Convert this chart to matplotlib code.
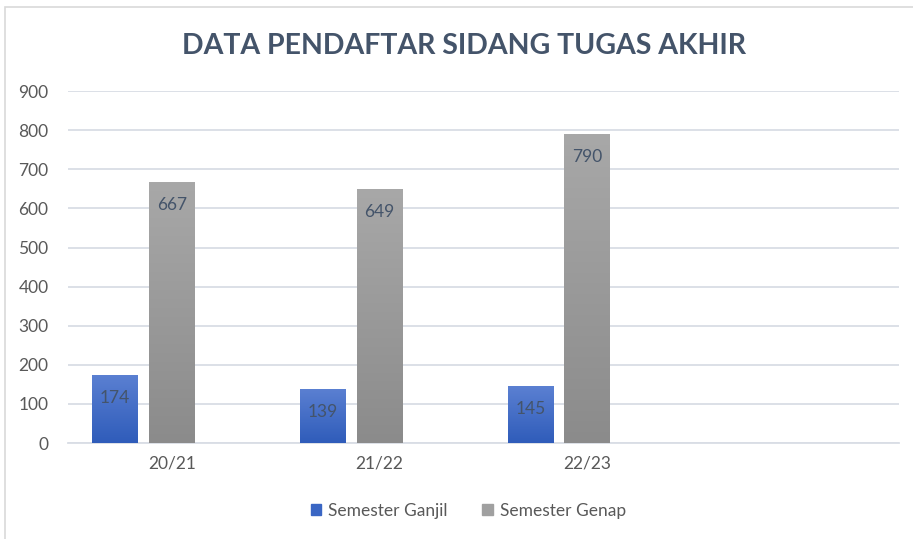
import numpy as np
import matplotlib.pyplot as plt
from matplotlib.patches import Rectangle
from matplotlib.colors import LinearSegmentedColormap

categories = ["20/21", "21/22", "22/23", ""]
ganjil = [174, 139, 145]
genap = [667, 649, 790]
series_names = ["Semester Ganjil", "Semester Genap"]

plt.rcParams['font.family'] = ['Lato', 'DejaVu Sans']

fig = plt.figure(figsize=(9.13, 5.39), dpi=100)
# chart area border (only left and top edges fall inside the picture)
fig.patches.append(Rectangle((0.006, -0.05), 1.1, 1.037, transform=fig.transFigure,
                             fill=False, edgecolor='#d9d9d9', lw=1.2))
ax = fig.add_axes([0.0745, 0.178, 0.9102, 0.653])

width = 0.221
offset = 0.274
x = np.arange(len(ganjil))

blue_cmap = LinearSegmentedColormap.from_list('b', ['#2f5cba', '#5b80d2'])
gray_cmap = LinearSegmentedColormap.from_list('g', ['#8b8b8b', '#a8a8a8'])
grad = np.linspace(0, 1, 256).reshape(-1, 1)


def gradient_bars(xpos, vals, color, cmap):
    bars = ax.bar(xpos, vals, width, color=color, zorder=3)
    for b in bars:
        im = ax.imshow(grad, cmap=cmap, origin='lower', aspect='auto',
                       extent=[b.get_x(), b.get_x() + b.get_width(), 0, b.get_height()],
                       zorder=3.5)
        im.set_clip_path(b)
    return bars


b1 = gradient_bars(x - offset, ganjil, '#4472c4', blue_cmap)
b2 = gradient_bars(x, genap, '#999999', gray_cmap)

for bars, vals in [(b1, ganjil), (b2, genap)]:
    for b, v in zip(bars, vals):
        ax.annotate(str(v), (b.get_x() + b.get_width() / 2, v), xytext=(0, -16.5),
                    textcoords='offset points', ha='center', va='center',
                    fontsize=12.5, color='#44546a', zorder=5)

ax.set_xlim(-0.5, len(categories) - 0.5)
ax.set_ylim(0, 900)
ax.set_yticks(range(0, 901, 100))
ax.set_xticks(range(len(categories)))
ax.set_xticklabels(categories)
ax.grid(axis='y', color='#d9dde5', lw=1.3, zorder=0)
for s in ['top', 'right', 'left']:
    ax.spines[s].set_visible(False)
ax.spines['bottom'].set_color('#d9dde5')
ax.spines['bottom'].set_linewidth(1.3)
ax.tick_params(length=0, labelsize=12.5, labelcolor='#595959')
ax.tick_params(axis='y', pad=14)
ax.tick_params(axis='x', pad=9)

fig.text(0.508, 0.915, "DATA PENDAFTAR SIDANG TUGAS AKHIR", ha='center', va='center',
         fontsize=20.5, fontweight='bold', color='#44546a')

handles = [Rectangle((0, 0), 1, 1, color='#3a66c4'), Rectangle((0, 0), 1, 1, color='#a0a0a0')]
fig.legend(handles, series_names, loc='center', bbox_to_anchor=(0.513, 0.052), ncol=2,
           frameon=False, fontsize=12.5, handlelength=0.6, handleheight=0.6,
           handletextpad=0.4, columnspacing=2.0, labelcolor='#595959')

fig.savefig('out.png', dpi=100)
